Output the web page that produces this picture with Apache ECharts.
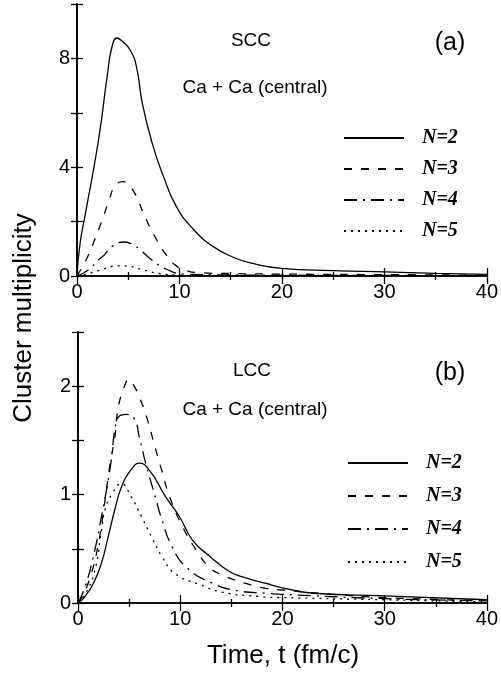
<!DOCTYPE html>
<html>
<head>
<meta charset="utf-8">
<script src="https://cdn.jsdelivr.net/npm/echarts@6/dist/echarts.min.js"></script>
<style>
  html, body { margin: 0; padding: 0; background: #fff; }
  #chart { width: 501px; height: 679px; }
</style>
</head>
<body>
<div id="chart"></div>
<script>
// values, [t (fm/c), multiplicity]
const sccN2 = [[0,0],[0.3,1.2],[0.9,2.45],[2.1,5.0],[3.0,7.5],[3.4,8.4],[3.9,8.75],[4.5,8.6],[5.2,8.3],[5.8,7.7],[6.4,6.3],[7.4,4.8],[8.4,3.7],[9.7,2.55],[11.4,1.7],[13.3,1.08],[15.3,0.68],[17,0.47],[20,0.28],[25,0.2],[30,0.15],[35,0.1],[40,0.06]];
const sccN3 = [[0,0],[0.9,0.6],[1.8,1.4],[2.4,2.0],[3.1,2.75],[3.7,3.3],[4.5,3.47],[5.0,3.35],[5.7,3.0],[6.6,2.2],[7.6,1.45],[8.6,0.83],[9.6,0.4],[10.7,0.2],[12,0.12],[15,0.09],[20,0.07],[30,0.05],[40,0.03]];
const sccN4 = [[0,0],[1.1,0.22],[2.1,0.6],[2.6,0.75],[3.4,1.08],[4.6,1.25],[5.2,1.2],[6.0,1.02],[7.3,0.59],[8.9,0.22],[10.5,0.07],[15,0.04],[20,0.03],[30,0.02],[40,0.01]];
const sccN5 = [[0,0],[1.0,0.07],[2.1,0.2],[4.0,0.37],[5.0,0.36],[6.3,0.24],[8.2,0.08],[9.7,0.04],[12,0.02],[20,0.01],[40,0.005]];

const lccN2 = [[0,0],[0.6,0.05],[1.5,0.18],[2.3,0.37],[2.95,0.61],[3.6,0.86],[4.25,1.07],[5.2,1.23],[6.0,1.29],[7.1,1.21],[8.5,0.99],[9.9,0.8],[11.2,0.58],[12.9,0.43],[14.8,0.29],[16.1,0.24],[18.4,0.18],[20,0.14],[23,0.09],[30,0.065],[40,0.03]];
const lccN3 = [[0,0],[0.3,0.04],[1.2,0.24],[2.0,0.55],[2.6,0.92],[3.1,1.26],[3.6,1.53],[3.9,1.78],[4.4,1.96],[5.0,2.06],[5.5,2.0],[6.0,1.9],[6.7,1.72],[7.5,1.45],[8.2,1.22],[9.0,0.97],[10.25,0.7],[11.55,0.49],[12.85,0.33],[14.1,0.26],[16.4,0.18],[18.4,0.135],[20,0.12],[25,0.08],[30,0.05],[40,0.02]];
const lccN4 = [[0,0],[0.7,0.15],[1.65,0.49],[2.3,0.8],[2.8,1.05],[3.3,1.35],[3.6,1.6],[4.0,1.72],[4.7,1.74],[5.5,1.7],[6.0,1.53],[6.7,1.26],[7.5,1.0],[8.2,0.77],[9.2,0.52],[10.6,0.33],[13.2,0.18],[15.8,0.11],[18.4,0.09],[20,0.08],[30,0.04],[40,0.02]];
const lccN5 = [[0,0],[0.8,0.1],[1.65,0.3],[2.3,0.67],[2.65,0.86],[3.3,1.0],[4.25,1.1],[5.2,0.98],[6.2,0.8],[7.2,0.61],[8.2,0.43],[9.5,0.27],[11.9,0.17],[14.1,0.1],[17.7,0.06],[20,0.05],[30,0.03],[40,0.01]];

const seriesNames = ['N=2', 'N=3', 'N=4', 'N=5'];
const xLabels = [0, 10, 20, 30, 40];
const sccYLabels = [0, 4, 8];
const lccYLabels = [0, 1, 2];

const dashes = ['solid', [8, 9], [13, 6, 2, 6], [2, 5]];
const sans = '"Liberation Sans", Arial, sans-serif';

const chart = echarts.init(document.getElementById('chart'), null, { renderer: 'canvas' });

function xAxes(grid) {
  const common = {
    type: 'value', gridIndex: grid, min: 0, max: 40, interval: 10,
    axisLine: { lineStyle: { color: '#000', width: 1.6 } },
    axisTick: { inside: true, length: 8, lineStyle: { color: '#000', width: 1.3 } },
    minorTick: { show: true, splitNumber: 2, length: 4, lineStyle: { color: '#000', width: 1.3 } },
    splitLine: { show: false },
  };
  return [
    Object.assign({}, common, {
      position: 'bottom',
      axisLabel: {
        color: '#000', fontSize: 20, fontFamily: sans, margin: 6,
        formatter: v => xLabels.includes(v) ? String(v) : '',
      },
    }),
    Object.assign({}, common, { position: 'top', axisLabel: { show: false } }),
  ];
}

function yAxes(grid, max, interval, labels) {
  const common = {
    type: 'value', gridIndex: grid, min: 0, max: max, interval: interval,
    axisLine: { lineStyle: { color: '#000', width: 1.6 } },
    axisTick: { inside: true, length: 6, lineStyle: { color: '#000', width: 1.3 } },
    splitLine: { show: false },
  };
  return [
    Object.assign({}, common, {
      position: 'left',
      axisLabel: {
        color: '#000', fontSize: 20, fontFamily: sans, margin: 7,
        formatter: v => labels.includes(+v.toFixed(2)) ? String(v) : '',
      },
    }),
    Object.assign({}, common, { position: 'right', axisLabel: { show: false } }),
  ];
}

function lines(data, grid) {
  return data.map((d, i) => ({
    name: seriesNames[i],
    type: 'line',
    xAxisIndex: grid * 2,
    yAxisIndex: grid * 2,
    data: d,
    symbol: 'none',
    smooth: 0.5,
    color: '#000',
    itemStyle: { color: '#000', opacity: 0 },
    lineStyle: { color: '#000', width: 1.3, type: dashes[i] },
    z: 3,
  }));
}

function legend(top, gap, left) {
  return {
    orient: 'vertical', left: left, top: top,
    itemWidth: 60, itemHeight: 20, itemGap: gap,
    data: seriesNames,
    selectedMode: false,
    itemStyle: { opacity: 0 },
    textStyle: {
      color: '#000', fontSize: 20, fontStyle: 'italic', fontWeight: 'bold',
      fontFamily: '"Liberation Serif", "Times New Roman", serif',
      padding: [0, 0, 0, 13],
    },
  };
}

function label(text, x, y, size) {
  return {
    type: 'text', x: x, y: y,
    style: { text: text, fill: '#000', font: size + 'px ' + sans, align: 'center', verticalAlign: 'middle' },
  };
}

chart.setOption({
  animation: false,
  grid: [
    { left: 77, top: 4, width: 410, height: 272 },
    { left: 78, top: 332, width: 411, height: 271 },
  ],
  xAxis: xAxes(0).concat(xAxes(1)),
  yAxis: yAxes(0, 10, 2, sccYLabels).concat(yAxes(1, 2.5, 0.5, lccYLabels)),
  legend: [legend(123, 11, 338), legend(448, 13, 342)],
  series: lines([sccN2, sccN3, sccN4, sccN5], 0).concat(lines([lccN2, lccN3, lccN4, lccN5], 1)),
  graphic: [
    label('SCC', 251, 41, 19),
    label('Ca + Ca (central)', 255, 88, 19),
    label('(a)', 450, 43, 25),
    label('LCC', 252, 371, 19),
    label('Ca + Ca (central)', 255, 410, 19),
    label('(b)', 450, 373, 25),
    label('Time, t (fm/c)', 283, 656, 26),
    Object.assign(label('Cluster multiplicity', 24, 318, 26), { rotation: Math.PI / 2 }),
  ],
});
</script>
</body>
</html>
